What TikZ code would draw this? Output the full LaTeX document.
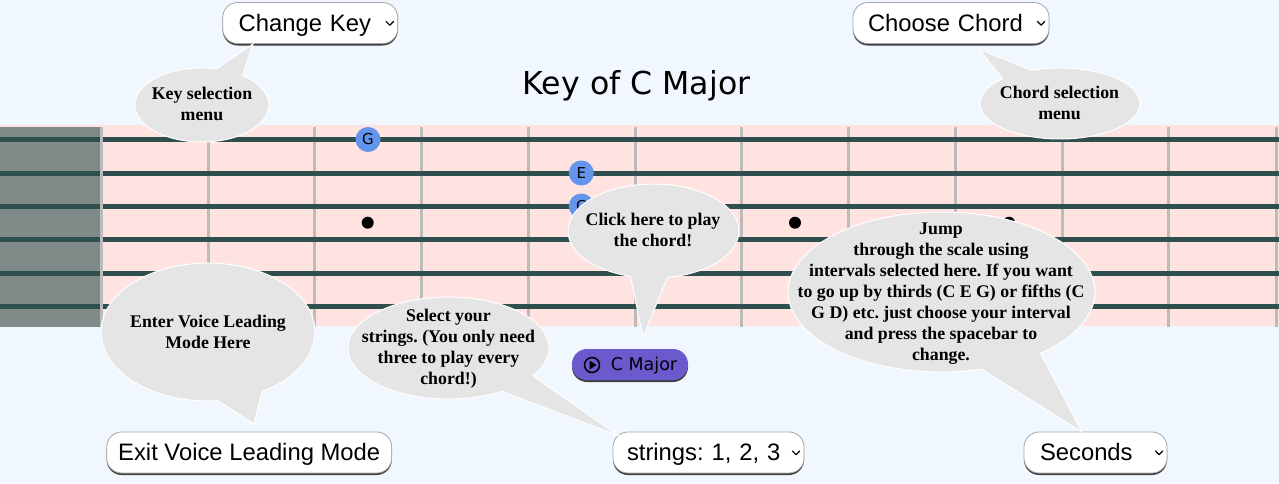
\documentclass[tikz,border=0pt]{standalone}
\usepackage{fontspec}
\setmainfont{Liberation Serif}
\newfontfamily\menufont{Liberation Sans}
\newfontfamily\boardfont{DejaVu Sans}
\usetikzlibrary{shapes.callouts}
\definecolor{pagecol}{HTML}{F0F7FF}
\definecolor{boardcol}{HTML}{FFE3E0}
\definecolor{nutcol}{HTML}{808A88}
\definecolor{stringcol}{HTML}{2F4F4F}
\definecolor{fretcol}{HTML}{BBBBBB}
\definecolor{notecol}{HTML}{6495ED}
\definecolor{playcol}{HTML}{6A5ACD}
\definecolor{bubblecol}{HTML}{E5E5E5}
\tikzset{
  fretline/.style={draw=fretcol, line width=3pt},
  stringline/.style={draw=stringcol, line width=5pt},
  note/.style={circle, fill=notecol, minimum size=25pt, inner sep=0pt, font=\boardfont\fontsize{15}{15}\selectfont},
  inlay/.style={circle, fill=black, minimum size=12pt, inner sep=0pt},
  menubox/.style={draw=black!35, fill=white, rounded corners=15pt, line width=0.8pt, minimum height=41pt,
    inner ysep=0pt, text height=18pt, text depth=2pt,
    font=\frenchspacing\menufont\fontsize{23.8}{24}\selectfont,
    preaction={fill=black!75, transform canvas={yshift=-2pt}}},
  bubble/.style={ellipse callout, draw=white, line width=1pt, fill=bubblecol, inner sep=0pt, outer sep=0pt, callout pointer arc=25},
  bubbletext/.style={align=center, inner sep=0pt, font=\frenchspacing\bfseries\fontsize{17.8}{21}\selectfont},
  chevron/.style={draw=black, line width=1.2pt, line cap=round, line join=round}
}
\begin{document}
\begin{tikzpicture}[x=1pt, y=-1pt]
  \useasboundingbox (0,0) rectangle (1279,483);
  \fill[pagecol] (0,0) rectangle (1279,483);
  \fill[boardcol] (0,125) rectangle (1279,326);
  \fill[nutcol] (0,127) rectangle (100,327);
  \foreach \x in {208,314.5,421,528,635,741,848,955,1062,1168,1276}
    \draw[fretline] (\x,127) -- (\x,327);
  \foreach \y in {139.5,173.3,206.3,239.5,273.3,306.3}
    \draw[stringline] (0,\y) -- (1279,\y);
  \draw[fretline] (101.3,127) -- (101.3,327);

  \node[note] (noteG) at (368,139.5) {G};
  \node[note] (noteE) at (581.3,173) {E};
  \node[note] (noteC) at (581.3,206) {C};
  \node[inlay] (inlayA) at (367.7,222.7) {};
  \node[inlay] (inlayB) at (795,222.7) {};
  \node[inlay] (inlayC) at (1009,222.7) {};

  \node[font=\boardfont\fontsize{31.6}{32}\selectfont, inner sep=0pt] (title) at (636.5,85.5) {Key of C Major};

  \node[menubox, minimum width=174.5pt, text width=143pt, inner xsep=16pt, align=left] (keymenu) at (310.2,23) {Change Key};
  \node[menubox, minimum width=196pt, text width=166pt, inner xsep=15pt, align=left] (chordmenu) at (951,23) {Choose Chord};
  \node[menubox, minimum width=285pt, inner xsep=0pt] (voicemenu) at (249.2,452.5) {Exit Voice Leading Mode};
  \node[menubox, minimum width=191pt, text width=163pt, inner xsep=14pt, align=left] (stringmenu) at (708.5,452.5) {strings: 1, 2, 3};
  \node[menubox, minimum width=143pt, text width=111pt, inner xsep=16pt, align=left] (intervalmenu) at (1095.5,452.5) {Seconds};
  \foreach \menu in {keymenu,chordmenu,stringmenu,intervalmenu}
    \draw[chevron] ([xshift=-12pt,yshift=1.5pt]\menu.east) -- ++(3.7,3.7) -- ++(3.7,-3.7);

  \node[draw=none, fill=playcol, rounded corners=15pt, minimum width=116pt, minimum height=31pt, inner sep=0pt,
    preaction={fill=black!75, transform canvas={yshift=-2pt}}] (playbutton) at (630,364.5) {};
  \node[font=\boardfont\fontsize{17.5}{17.5}\selectfont, inner sep=0pt] (playtext) at (644,366) {C Major};
  \node[circle, draw=black, line width=1.5pt, minimum size=15pt, inner sep=0pt] (playicon) at (592,365) {};
  \fill[black] (589.5,360.5) -- (596.5,365) -- (589.5,369.5) -- cycle;

  \coordinate (keytip) at (253,44);
  \coordinate (chordtip) at (979,49);
  \coordinate (voicetip) at (254,424);
  \coordinate (clicktip) at (643,337);
  \coordinate (stringtip) at (619,436);
  \coordinate (jumptip) at (1082,432);

  \node[bubble, minimum width=134pt, minimum height=74pt, callout absolute pointer={(keytip)}] (keybubble) at (202,105) {};
  \node[bubble, minimum width=160pt, minimum height=71pt, callout absolute pointer={(chordtip)}] (chordbubble) at (1060,103.5) {};
  \node[bubble, minimum width=214pt, minimum height=138pt, callout absolute pointer={(voicetip)}] (voicebubble) at (208,332) {};
  \node[bubble, minimum width=171pt, minimum height=94pt, callout absolute pointer={(clicktip)}] (clickbubble) at (653.5,231) {};
  \node[bubble, minimum width=201pt, minimum height=102pt, callout absolute pointer={(stringtip)}] (stringbubble) at (448.5,348) {};
  \node[bubble, minimum width=307pt, minimum height=160pt, callout absolute pointer={(jumptip)}] (jumpbubble) at (941.5,292) {};

  \node[bubbletext] (keylabel) at (202,103.5) {Key selection\\menu};
  \node[bubbletext] (chordlabel) at (1059.5,102.5) {Chord selection\\menu};
  \node[bubbletext] (voicelabel) at (208,331.5) {Enter Voice Leading\\Mode Here};
  \node[bubbletext] (clicklabel) at (653,230) {Click here to play\\the chord!};
  \node[bubbletext] (stringlabel) at (448.5,348.5) {Select your\\strings. (You only need\\three to play every\\chord!)};
  \node[bubbletext] (jumplabel) at (941,293.5) {Jump\\through the scale using\\intervals selected here. If you want\\to go up by thirds (C E G) or fifths (C\\G D) etc. just choose your interval\\and press the spacebar to\\change.};
\end{tikzpicture}
\end{document}
